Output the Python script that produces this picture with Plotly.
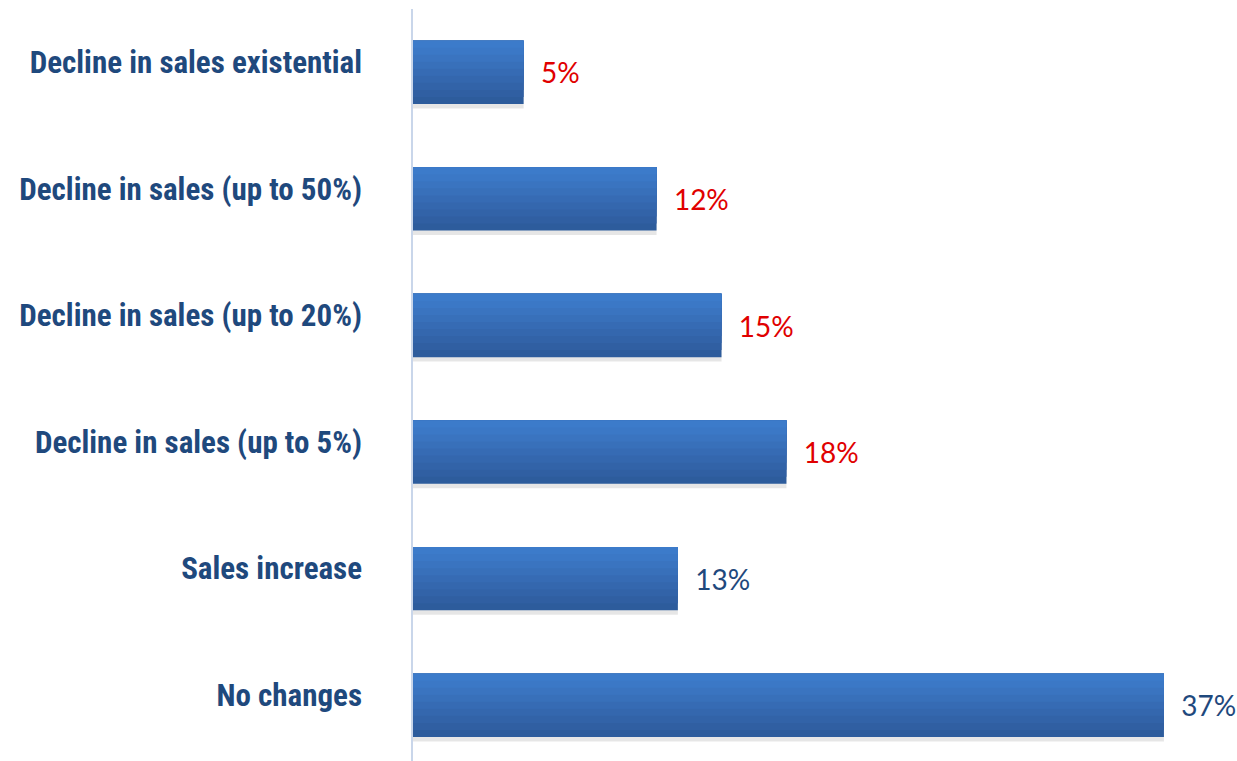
import plotly.graph_objects as go

categories = ["No changes", "Sales increase", "Decline in sales (up to 5%)",
              "Decline in sales (up to 20%)", "Decline in sales (up to 50%)",
              "Decline in sales existential"]
values = [37.0, 13.05, 18.4, 15.2, 12.0, 5.45]
value_labels = ["37%", "13%", "18%", "15%", "12%", "5%"]
label_colors = ["#1f497d", "#1f497d", "#e00000", "#e00000", "#e00000", "#e00000"]

# vertical gradient steps (bottom dark -> top light)
grad_colors = ["#2d5c9c", "#305fa2", "#3263a8", "#3467ae", "#366bb4", "#3870ba", "#3a74c0", "#3b78c6", "#3c7bca"]

fig = go.Figure()
bar_w = 0.5

# soft shadow under the bars
fig.add_trace(go.Bar(
    y=categories, x=values, orientation="h",
    width=bar_w, offset=-bar_w / 2 - 0.035,
    marker=dict(color="rgba(60,60,60,0.13)", line=dict(width=0)),
    hoverinfo="skip", showlegend=False,
))

n = len(grad_colors)
for k, c in enumerate(grad_colors):
    w = bar_w * (n - k) / n
    fig.add_trace(go.Bar(
        y=categories, x=values, orientation="h",
        width=w, offset=bar_w / 2 - w,
        marker=dict(color=c, line=dict(width=0)),
        hoverinfo="skip" if k else None,
        showlegend=False,
    ))

fig.add_trace(go.Bar(
    y=categories, x=values, orientation="h",
    width=bar_w, offset=-bar_w / 2,
    marker=dict(color="rgba(0,0,0,0)", line=dict(width=0)),
    text=["  " + t for t in value_labels],
    textposition="outside",
    textfont=dict(family="Lato, Open Sans, sans-serif", size=28, color=label_colors),
    cliponaxis=False,
    hoverinfo="skip",
    showlegend=False,
))

# invisible trace carrying the category labels (slightly raised axis)
fig.add_trace(go.Scatter(
    y=categories, x=values, yaxis="y2", mode="markers",
    marker=dict(opacity=0, size=1),
    hoverinfo="skip", showlegend=False,
))

lo, hi = -0.44, 5.5
shift = 0.08
fig.update_layout(
    width=1237, height=761,
    barmode="overlay",
    plot_bgcolor="white", paper_bgcolor="white",
    margin=dict(l=413, r=0, t=9, b=0),
    xaxis=dict(range=[0, 40.6], visible=False, fixedrange=True),
    yaxis=dict(
        range=[lo, hi], automargin=False,
        showline=True, linecolor="#c9d6ea", linewidth=2,
        showgrid=False, zeroline=False, ticks="", showticklabels=False,
    ),
    yaxis2=dict(
        range=[lo - shift, hi - shift], overlaying="y", side="left",
        type="category", categoryorder="array", categoryarray=categories,
        automargin=False, showline=False, showgrid=False, zeroline=False, ticks="",
        ticklabelstandoff=50,
        tickfont=dict(family="Roboto Condensed, Liberation Sans Narrow, sans-serif",
                      size=31, color="#1f497d", weight="bold"),
    ),
)

fig.write_html("out.html", config={"displayModeBar": False},
               post_script="document.body.style.margin='0';")
